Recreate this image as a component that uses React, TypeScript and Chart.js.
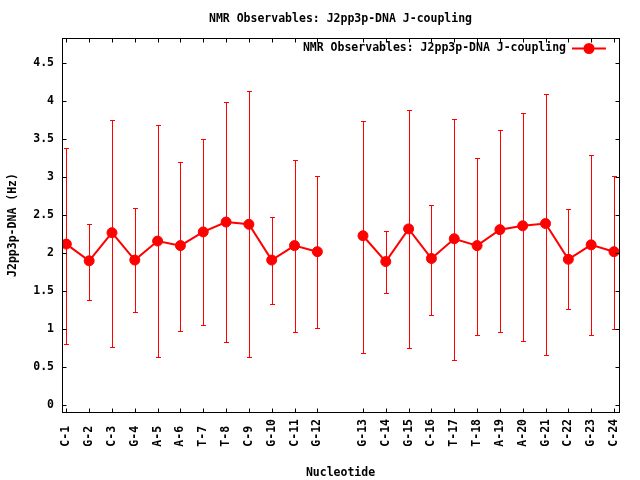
import React, { useEffect, useRef } from "react";
import { Chart, registerables } from "chart.js";

Chart.register(...registerables);

const chartTitle = "NMR Observables: J2pp3p-DNA J-coupling";
const seriesLabel = "NMR Observables: J2pp3p-DNA J-coupling";
const xTitle = "Nucleotide";
const yTitle = "J2pp3p-DNA (Hz)";

// '' marks the empty slot between the two strands
const categories = [
  "C-1", "G-2", "C-3", "G-4", "A-5", "A-6", "T-7", "T-8", "C-9", "G-10", "C-11", "G-12",
  "",
  "G-13", "C-14", "G-15", "C-16", "T-17", "T-18", "A-19", "A-20", "G-21", "C-22", "G-23", "C-24",
];
const jValues = [
  2.12, 1.90, 2.27, 1.91, 2.16, 2.10, 2.28, 2.41, 2.38, 1.91, 2.10, 2.02,
  null,
  2.23, 1.89, 2.32, 1.93, 2.19, 2.10, 2.31, 2.36, 2.39, 1.92, 2.11, 2.02,
];
const errLow = [
  0.80, 1.39, 0.77, 1.23, 0.63, 0.98, 1.05, 0.83, 0.64, 1.33, 0.96, 1.02,
  null,
  0.69, 1.48, 0.75, 1.19, 0.60, 0.93, 0.97, 0.85, 0.66, 1.26, 0.92, 1.01,
];
const errHigh = [
  3.39, 2.39, 3.75, 2.59, 3.68, 3.20, 3.50, 3.99, 4.13, 2.48, 3.22, 3.01,
  null,
  3.74, 2.29, 3.88, 2.64, 3.76, 3.25, 3.62, 3.85, 4.10, 2.58, 3.29, 3.02,
];
const yTickValues = [0, 0.5, 1, 1.5, 2, 2.5, 3, 3.5, 4, 4.5];

const RED = "#ff0000";
const FONT_FAMILY = "'DejaVu Sans Mono', monospace";
const FONT_SIZE = 11.5;

const errorBarPlugin = {
  id: "errorBars",
  beforeDatasetsDraw(chart: any) {
    const { ctx } = chart;
    const x = chart.scales.x;
    const y = chart.scales.y;
    ctx.save();
    ctx.strokeStyle = RED;
    ctx.lineWidth = 1;
    errLow.forEach((lo, i) => {
      const hi = errHigh[i];
      if (lo == null || hi == null) return;
      const px = Math.round(x.getPixelForValue(i)) + 0.5;
      const y1 = Math.round(y.getPixelForValue(lo)) + 0.5;
      const y2 = Math.round(y.getPixelForValue(hi)) + 0.5;
      ctx.beginPath();
      ctx.moveTo(px, y1);
      ctx.lineTo(px, y2);
      ctx.moveTo(px - 2.5, y1);
      ctx.lineTo(px + 2.5, y1);
      ctx.moveTo(px - 2.5, y2);
      ctx.lineTo(px + 2.5, y2);
      ctx.stroke();
    });
    ctx.restore();
  },
};

const framePlugin = {
  id: "gnuFrame",
  afterDraw(chart: any) {
    const { ctx, chartArea } = chart;
    const { left, right, top, bottom } = chartArea;
    const x = chart.scales.x;
    const y = chart.scales.y;
    const L = Math.round(left) + 0.5;
    const R = Math.round(right) + 0.5;
    const T = Math.round(top) + 0.5;
    const B = Math.round(bottom) + 0.5;
    ctx.save();
    ctx.strokeStyle = "#000";
    ctx.lineWidth = 1;
    ctx.beginPath();
    const tl = 4;
    yTickValues.forEach((v) => {
      const py = Math.round(y.getPixelForValue(v)) + 0.5;
      ctx.moveTo(L, py);
      ctx.lineTo(L + tl, py);
      ctx.moveTo(R, py);
      ctx.lineTo(R - tl, py);
    });
    categories.forEach((c, i) => {
      if (!c) return;
      const px = Math.round(x.getPixelForValue(i)) + 0.5;
      ctx.moveTo(px, B);
      ctx.lineTo(px, B - tl);
      ctx.moveTo(px, T);
      ctx.lineTo(px, T + tl);
    });
    ctx.stroke();
    ctx.strokeRect(L, T, R - L, B - T);

    // title
    ctx.fillStyle = "#000";
    ctx.font = `bold ${FONT_SIZE}px ${FONT_FAMILY}`;
    ctx.textAlign = "center";
    ctx.textBaseline = "middle";
    ctx.fillText(chartTitle, (left + right) / 2, 19);

    // key
    const keyY = 48.5;
    ctx.textAlign = "right";
    ctx.fillText(seriesLabel, 566, keyY);
    ctx.strokeStyle = RED;
    ctx.lineWidth = 2;
    ctx.beginPath();
    ctx.moveTo(572, keyY);
    ctx.lineTo(606, keyY);
    ctx.stroke();
    ctx.fillStyle = RED;
    ctx.beginPath();
    ctx.arc(589, keyY, 5.5, 0, Math.PI * 2);
    ctx.fill();
    ctx.restore();
  },
};

export default function App() {
  const ref = useRef<HTMLCanvasElement | null>(null);

  useEffect(() => {
    document.body.style.margin = "0";
    const canvas = ref.current;
    if (!canvas) return;
    const points = jValues.map((v, i) => ({ x: i, y: v }));
    const font = { family: FONT_FAMILY, size: FONT_SIZE, weight: "bold" as const };
    const chart = new Chart(canvas, {
      type: "line",
      data: {
        datasets: [
          {
            label: seriesLabel,
            data: points as any,
            borderColor: RED,
            backgroundColor: RED,
            borderWidth: 2,
            pointRadius: 5,
            pointBorderWidth: 1,
            pointBackgroundColor: RED,
            pointBorderColor: RED,
            spanGaps: false,
            tension: 0,
          },
        ],
      },
      options: {
        animation: false,
        responsive: false,
        devicePixelRatio: 1,
        layout: { padding: { top: 38, right: 21, left: 0, bottom: 0 } },
        plugins: {
          legend: { display: false },
          title: { display: false },
          tooltip: { enabled: false },
        },
        scales: {
          x: {
            type: "linear",
            min: -0.19,
            max: 24.22,
            grid: { display: false, drawTicks: false },
            border: { display: false },
            afterBuildTicks: (scale: any) => {
              scale.ticks = categories
                .map((c, i) => ({ value: i, label: c }))
                .filter((t) => t.label !== "")
                .map((t) => ({ value: t.value }));
            },
            afterFit: (scale: any) => {
              scale.height = 68;
            },
            ticks: {
              autoSkip: false,
              minRotation: 90,
              maxRotation: 90,
              padding: 7,
              color: "#000",
              font,
              callback: (v: any) => (categories[v] ?? "").padEnd(4, " "),
            },
            title: {
              display: true,
              text: xTitle,
              color: "#000",
              font,
              padding: { top: 0, bottom: 0 },
            },
          },
          y: {
            type: "linear",
            min: -0.088,
            max: 4.83,
            grid: { display: false, drawTicks: false },
            border: { display: false },
            afterBuildTicks: (scale: any) => {
              scale.ticks = yTickValues.map((v) => ({ value: v }));
            },
            afterFit: (scale: any) => {
              scale.width = 62;
            },
            ticks: {
              padding: 8,
              color: "#000",
              font,
              callback: (v: any) => String(v),
            },
            title: {
              display: true,
              text: yTitle,
              color: "#000",
              font,
              padding: { top: 6, bottom: 0 },
            },
          },
        },
      },
      plugins: [errorBarPlugin, framePlugin],
    });
    return () => chart.destroy();
  }, []);

  return <canvas ref={ref} width={640} height={480} style={{ display: "block" }} />;
}
